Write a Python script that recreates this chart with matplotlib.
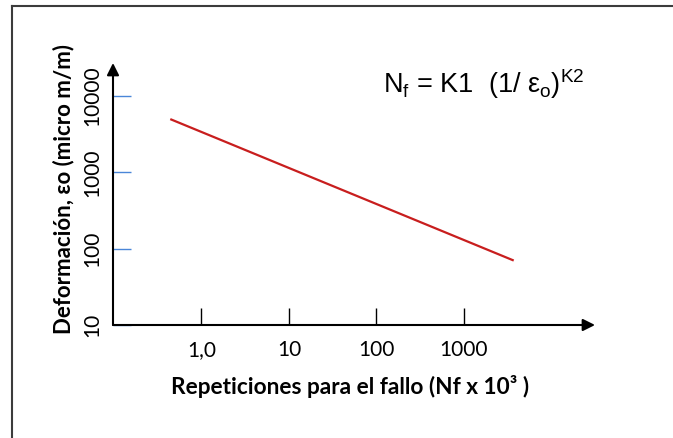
import matplotlib.pyplot as plt
from matplotlib.lines import Line2D
from matplotlib.ticker import NullLocator

# fatigue law: strain vs repetitions to failure (log-log)
n_rep = [0.44, 3700]
strain = [5000, 70]

x_ticks = [1, 10, 100, 1000]
x_labels = ['1,0', '10', '100', '1000']
y_ticks = [10, 100, 1000, 10000]
y_labels = ['10', '100', '1000', '10000']

W, H = 673, 438
fig = plt.figure(figsize=(W / 100, H / 100), dpi=100)
fig.patch.set_facecolor('white')

# axes box in pixels: left 113, right 595, top 63, bottom 325
ax = fig.add_axes([113 / W, (H - 325) / H, (595 - 113) / W, (325 - 63) / H])
ax.set_xscale('log')
ax.set_yscale('log')
ax.set_xlim(0.0975, 31400)
ax.set_ylim(10, 27200)
for s in ax.spines.values():
    s.set_visible(False)

ax.plot(n_rep, strain, color='#c81e1e', lw=1.6, solid_capstyle='butt')

lab_font = ['Lato', 'DejaVu Sans']
ax.set_xticks(x_ticks)
ax.set_xticklabels(x_labels, family=lab_font, fontsize=15)
ax.set_yticks(y_ticks)
ax.set_yticklabels(y_labels, family=lab_font, fontsize=15, rotation=90, va='center')
ax.xaxis.set_minor_locator(NullLocator())
ax.yaxis.set_minor_locator(NullLocator())
ax.tick_params(axis='x', direction='in', length=12, width=1, color='black', pad=11)
ax.tick_params(axis='y', direction='in', length=13, width=1, color='#4a86d8', pad=8)

# axis arrows
arrow = dict(arrowstyle='-|>', color='black', lw=1.5, mutation_scale=18, shrinkA=0, shrinkB=0)
ax.annotate('', xy=(1, 0), xytext=(0, 0), xycoords='axes fraction', arrowprops=arrow,
            annotation_clip=False, zorder=5)
ax.annotate('', xy=(0, 1), xytext=(0, 0), xycoords='axes fraction', arrowprops=arrow,
            annotation_clip=False, zorder=5)

ax.set_xlabel('Repeticiones para el fallo (Nf x 10³ )', family=lab_font, fontweight='bold',
              fontsize=16.3, va='baseline')
ax.xaxis.set_label_coords(0.492, -0.263)
ax.set_ylabel('Deformación, εo (micro m/m)', family=lab_font, fontweight='bold',
              fontsize=16, va='center')
ax.yaxis.set_label_coords(-0.1017, 0.519)

plt.rcParams['mathtext.default'] = 'regular'
ax.text(0.56, 0.885, r'N$_\mathregular{f}$ = K1  (1/ ε$_\mathregular{o}$)$^\mathregular{K2}$',
        transform=ax.transAxes, family='Liberation Sans', fontsize=19.5, va='baseline', ha='left')

# frame lines along the left and top edges
edge = '#3c3c3c'
fig.add_artist(Line2D([12 / W, 12 / W], [0, 1 - 6 / H], transform=fig.transFigure, color=edge, lw=1.5))
fig.add_artist(Line2D([12 / W, 1], [1 - 6 / H, 1 - 6 / H], transform=fig.transFigure, color=edge, lw=1.5))

fig.savefig('out.png', dpi=100)
